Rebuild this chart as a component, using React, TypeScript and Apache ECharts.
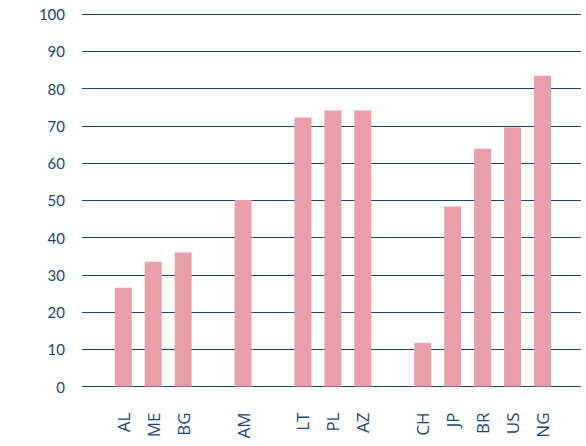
import React, { useEffect, useRef } from "react";
import * as echarts from "echarts";

const categories = ["AL", "ME", "BG", "", "AM", "", "LT", "PL", "AZ", "", "CH", "JP", "BR", "US", "NG"];
const values: (number | null)[] = [26.5, 33.5, 36, null, 50.1, null, 72.2, 74.1, 74.1, null, 11.7, 48.3, 63.8, 69.5, 83.4];
const yTicks = [0, 10, 20, 30, 40, 50, 60, 70, 80, 90, 100];

const NAVY = "#1c4670";
const PINK = "#e89faa";

export default function App() {
  const ref = useRef<HTMLDivElement>(null);
  useEffect(() => {
    if (!ref.current) return;
    const chart = echarts.init(ref.current, null, { renderer: "svg" });
    chart.setOption({
      animation: false,
      backgroundColor: "#ffffff",
      grid: [
        { left: 82, right: 5, top: 14, bottom: 59.5 },
        { left: 108.3, width: 449.2, top: 14, bottom: 59.5 },
      ],
      xAxis: [
        { gridIndex: 0, type: "value", show: false, min: 0, max: 1 },
        {
          gridIndex: 1,
          type: "category",
          data: categories,
          axisLine: { show: false },
          axisTick: { show: false },
          axisLabel: {
            interval: 0,
            rotate: 90,
            margin: 26,
            color: NAVY,
            fontSize: 17,
            fontFamily: "Open Sans",
          },
        },
      ],
      yAxis: [
        {
          gridIndex: 0,
          type: "value",
          min: yTicks[0],
          max: yTicks[yTicks.length - 1],
          interval: 10,
          axisLine: { show: false },
          axisTick: { show: false },
          splitLine: { show: true, lineStyle: { color: NAVY, width: 1.2 } },
          axisLabel: {
            margin: 17,
            color: NAVY,
            fontSize: 15,
            fontFamily: "Lato",
          },
        },
        {
          gridIndex: 1,
          type: "value",
          min: yTicks[0],
          max: yTicks[yTicks.length - 1],
          show: false,
          splitLine: { show: false },
        },
      ],
      series: [
        {
          type: "bar",
          xAxisIndex: 1,
          yAxisIndex: 1,
          data: values,
          barWidth: 17,
          itemStyle: { color: PINK },
          z: 3,
        },
      ],
    });
    return () => chart.dispose();
  }, []);
  return (
    <div
      ref={ref}
      style={{ position: "fixed", left: 0, top: 0, width: 586, height: 446, background: "#fff" }}
    />
  );
}
